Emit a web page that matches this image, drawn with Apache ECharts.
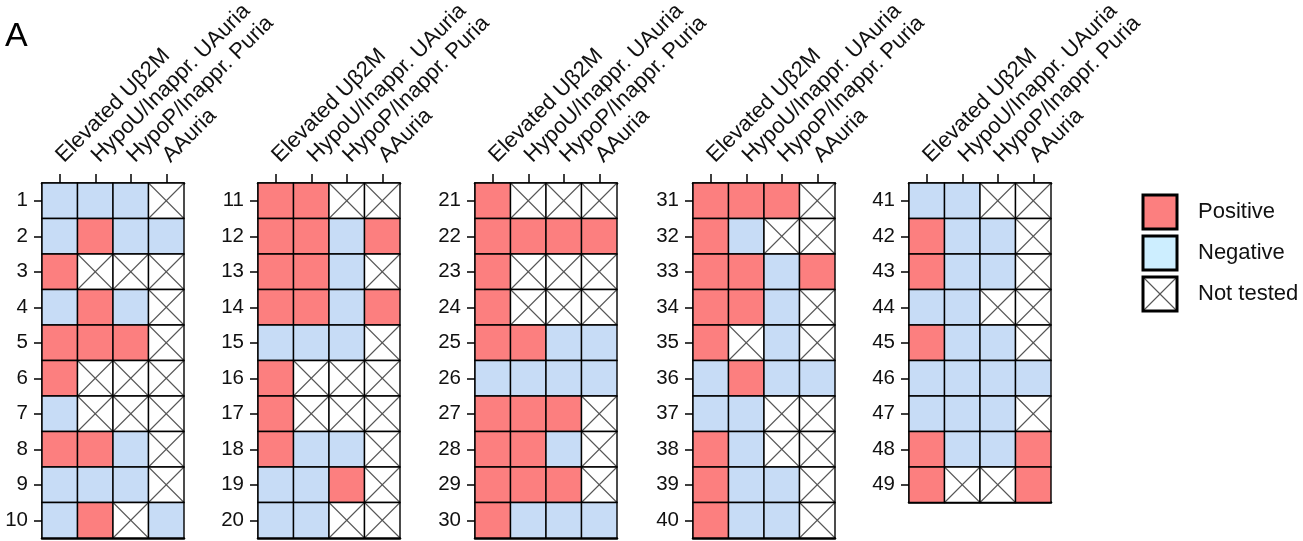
<!DOCTYPE html>
<html>
<head>
<meta charset="utf-8">
<script src="https://cdn.jsdelivr.net/npm/echarts@6/dist/echarts.min.js"></script>
<style>
html,body{margin:0;padding:0;background:#fff;}
#chart{width:1303px;height:541px;}
</style>
</head>
<body>
<div id="chart"></div>
<script>
// Column (test) names
const tests = ['Elevated U\u03b22M', 'HypoU/Inappr. UAuria', 'HypoP/Inappr. Puria', 'AAuria'];
// Patient labels 1..49
const patients = ['1','2','3','4','5','6','7','8','9','10',
  '11','12','13','14','15','16','17','18','19','20',
  '21','22','23','24','25','26','27','28','29','30',
  '31','32','33','34','35','36','37','38','39','40',
  '41','42','43','44','45','46','47','48','49'];
// Status per patient: P = positive, N = negative, X = not tested
const elevatedUb2m = ['N','N','P','N','P','P','N','P','N','N',
  'P','P','P','P','N','P','P','P','N','N',
  'P','P','P','P','P','N','P','P','P','P',
  'P','P','P','P','P','N','N','P','P','P',
  'N','P','P','N','P','N','N','P','P'];
const hypoUAuria = ['N','P','X','P','P','X','X','P','N','P',
  'P','P','P','P','N','X','X','N','N','N',
  'X','P','X','X','P','N','P','P','P','N',
  'P','N','P','P','X','P','N','N','N','N',
  'N','N','N','N','N','N','N','N','X'];
const hypoPPuria = ['N','N','X','N','P','X','X','N','N','X',
  'X','N','N','N','N','X','X','N','P','X',
  'X','P','X','X','N','N','P','N','P','N',
  'P','X','N','N','N','N','X','X','N','N',
  'X','N','N','X','N','N','N','N','X'];
const aauria = ['X','N','X','X','X','X','X','X','X','N',
  'X','P','X','P','X','X','X','X','X','X',
  'X','P','X','X','N','N','X','X','X','N',
  'X','X','P','X','X','N','X','X','X','X',
  'X','X','X','X','X','N','X','P','P'];
const panelSizes = [10, 10, 10, 10, 9];
const legendLabels = ['Positive', 'Negative', 'Not tested'];

const columns = [elevatedUb2m, hypoUAuria, hypoPPuria, aauria];
const FONT = '"Liberation Sans", Arial, sans-serif';
const POS = '#FC7F7F', NEG = '#C7DCF6';
const gridLefts = [42, 258, 475, 693, 909];
const cellW = 35.5, cellH = 35.5, gridTop = 183;

const chart = echarts.init(document.getElementById('chart'), null, {renderer: 'canvas'});

const grid = [], xAxis = [], yAxis = [], series = [];
let start = 0;
panelSizes.forEach((n, p) => {
  const rows = patients.slice(start, start + n);
  grid.push({left: gridLefts[p], top: gridTop, width: cellW * 4, height: cellH * n,
    containLabel: false, outerBoundsMode: 'none'});
  xAxis.push({
    type: 'category', gridIndex: p, position: 'top', data: tests,
    axisLine: {show: true, lineStyle: {color: '#000', width: 2.5}},
    axisTick: {show: true, alignWithLabel: true, length: 9, lineStyle: {color: '#000', width: 1.5}},
    axisLabel: {interval: 0, rotate: -45, margin: 24, fontSize: 22, fontFamily: FONT, color: '#111', hideOverlap: false},
    splitLine: {show: false}
  });
  xAxis.push({
    type: 'category', gridIndex: p, position: 'bottom', data: tests,
    axisLine: {show: true, lineStyle: {color: '#000', width: 2.5}},
    axisTick: {show: false}, axisLabel: {show: false}, splitLine: {show: false}
  });
  yAxis.push({
    type: 'category', gridIndex: p, inverse: true, data: rows,
    axisLine: {show: true, lineStyle: {color: '#000', width: 1.5}},
    axisTick: {show: true, alignWithLabel: true, length: 8, lineStyle: {color: '#000', width: 1.5}},
    axisLabel: {interval: 0, margin: 14, fontSize: 20.5, fontFamily: FONT, color: '#111'},
    splitLine: {show: false}
  });
  const data = [];
  const status = [];
  for (let r = 0; r < n; r++) {
    for (let c = 0; c < 4; c++) {
      data.push([c, r]);
      status.push(columns[c][start + r]);
    }
  }
  series.push({
    type: 'custom', xAxisIndex: p * 2, yAxisIndex: p, data: data,
    renderItem: function (params, api) {
      const ctr = api.coord([api.value(0), api.value(1)]);
      const sz = api.size([1, 1]);
      const x = ctr[0] - sz[0] / 2, y = ctr[1] - sz[1] / 2, w = sz[0], h = sz[1];
      const st = status[params.dataIndex];
      const children = [];
      children.push({type: 'rect', shape: {x: x, y: y, width: w, height: h},
        style: {fill: st === 'P' ? POS : (st === 'N' ? NEG : '#fff'), stroke: null}});
      if (st === 'X') {
        children.push({type: 'line', shape: {x1: x, y1: y, x2: x + w, y2: y + h}, style: {stroke: '#555', lineWidth: 1.1}});
        children.push({type: 'line', shape: {x1: x + w, y1: y, x2: x, y2: y + h}, style: {stroke: '#555', lineWidth: 1.1}});
      }
      children.push({type: 'rect', shape: {x: x, y: y, width: w, height: h},
        style: {fill: null, stroke: '#000', lineWidth: 1.4}});
      return {type: 'group', children: children};
    }
  });
  start += n;
});

// Legend drawn as graphic
const legendFills = [POS, '#CDEEFF', '#fff'];
const legendGraphic = [];
legendLabels.forEach((lab, i) => {
  const ly = 195 + i * 41;
  const children = [
    {type: 'rect', shape: {x: 0, y: 0, width: 34, height: 34}, style: {fill: legendFills[i], stroke: null}}
  ];
  if (i === 2) {
    children.push({type: 'line', shape: {x1: 0, y1: 0, x2: 34, y2: 34}, style: {stroke: '#555', lineWidth: 1.1}});
    children.push({type: 'line', shape: {x1: 34, y1: 0, x2: 0, y2: 34}, style: {stroke: '#555', lineWidth: 1.1}});
  }
  children.push({type: 'rect', shape: {x: 0, y: 0, width: 34, height: 34}, style: {fill: null, stroke: '#000', lineWidth: 3}});
  children.push({type: 'text', x: 55, y: 17, style: {text: lab, font: '22px ' + FONT, fill: '#111', verticalAlign: 'middle', textAlign: 'left'}});
  legendGraphic.push({type: 'group', x: 1143, y: ly, children: children});
});
legendGraphic.push({type: 'text', left: 5, top: 20, style: {text: 'A', font: '34px ' + FONT, fill: '#000'}});

chart.setOption({
  animation: false,
  backgroundColor: '#fff',
  grid: grid,
  xAxis: xAxis,
  yAxis: yAxis,
  series: series,
  graphic: legendGraphic
});
</script>
</body>
</html>
